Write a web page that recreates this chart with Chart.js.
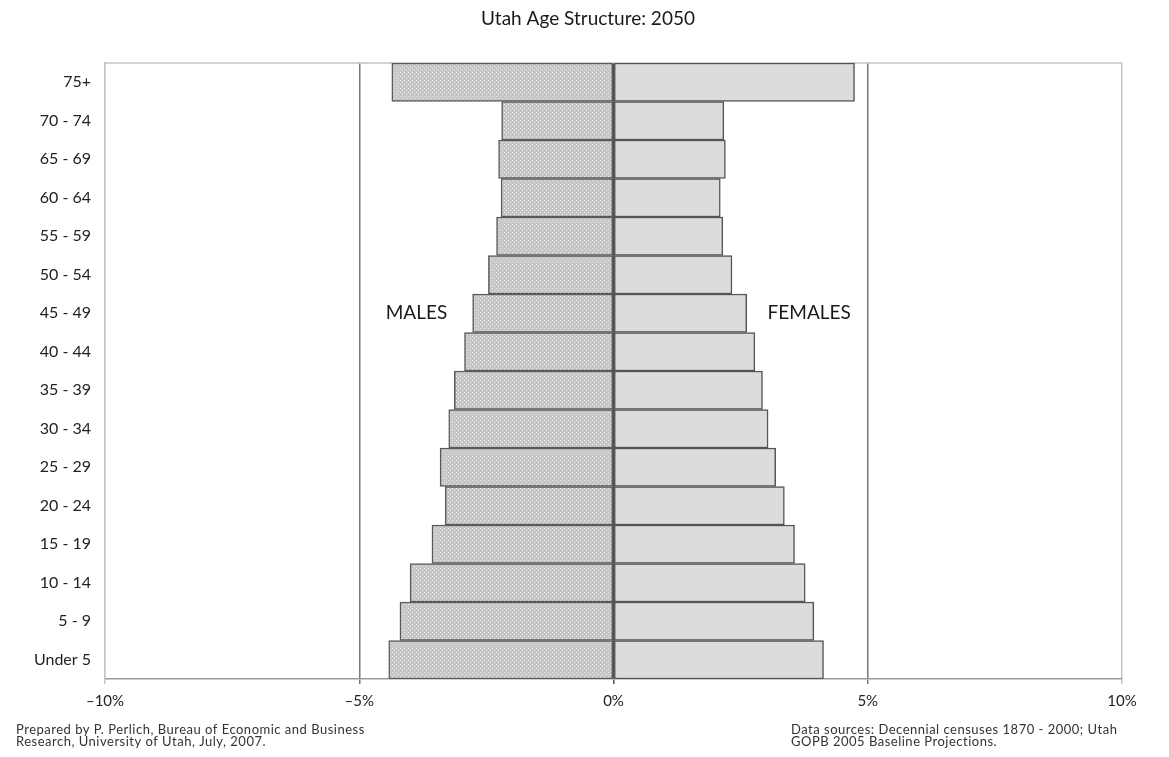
<!DOCTYPE html>
<html>
<head>
<meta charset="utf-8">
<script src="https://cdn.jsdelivr.net/npm/chart.js@4.4.1/dist/chart.umd.min.js"></script>
<style>
  html, body { margin: 0; padding: 0; background: #fff; }
  #wrap { width: 1169px; height: 757px; position: relative; }
</style>
</head>
<body>
<div id="wrap"><canvas id="c" width="1169" height="757"></canvas></div>
<script>
const chartTitle = 'Utah Age Structure: 2050';
const ageGroups = ['75+', '70 - 74', '65 - 69', '60 - 64', '55 - 59', '50 - 54', '45 - 49', '40 - 44',
  '35 - 39', '30 - 34', '25 - 29', '20 - 24', '15 - 19', '10 - 14', '5 - 9', 'Under 5'];
// percent of total population (males shown on the left as negative values)
const malesPct = [4.36, 2.20, 2.26, 2.21, 2.30, 2.46, 2.77, 2.93, 3.13, 3.24, 3.41, 3.31, 3.57, 4.00, 4.20, 4.42];
const femalesPct = [4.74, 2.17, 2.20, 2.10, 2.15, 2.33, 2.62, 2.78, 2.93, 3.04, 3.19, 3.36, 3.56, 3.77, 3.94, 4.13];
const xTicks = [-10, -5, 0, 5, 10];
const noteLeft = ['Prepared by P. Perlich, Bureau of Economic and Business', 'Research, University of Utah, July, 2007.'];
const noteRight = ['Data sources: Decennial censuses 1870 - 2000; Utah', 'GOPB 2005 Baseline Projections.'];

const FONT = 'Lato, "Open Sans", sans-serif';

function dotPattern(ctx) {
  const p = document.createElement('canvas');
  p.width = 4; p.height = 4;
  const g = p.getContext('2d');
  g.fillStyle = '#c6c6c6';
  g.fillRect(0, 0, 4, 4);
  g.fillStyle = '#ececec';
  g.fillRect(0, 0, 1, 1);
  g.fillRect(2, 2, 1, 1);
  return ctx.createPattern(p, 'repeat');
}
const ctx0 = document.getElementById('c').getContext('2d');
const malePattern = dotPattern(ctx0);

const decor = {
  id: 'decor',
  beforeDatasetsDraw(chart) {
    const { ctx, chartArea: a } = chart;
    ctx.save();
    ctx.strokeStyle = '#c4c4c4';
    ctx.lineWidth = 1.5;
    ctx.beginPath();
    ctx.moveTo(a.left, a.top); ctx.lineTo(a.right, a.top);
    ctx.stroke();
    ctx.restore();
  },
  afterDraw(chart) {
    const { ctx, scales } = chart;
    ctx.save();
    ctx.fillStyle = '#1a1a1a';
    ctx.textBaseline = 'middle';
    ctx.font = '19px ' + FONT;
    ctx.textAlign = 'center';
    ctx.fillText(chartTitle, 588, 19);
    const yRow = scales.y.getPixelForValue(ageGroups.indexOf('45 - 49'));
    ctx.font = '19px ' + FONT;
    ctx.textAlign = 'right';
    ctx.fillText('MALES', scales.x.getPixelForValue(-3.27), yRow);
    ctx.textAlign = 'left';
    ctx.fillText('FEMALES', scales.x.getPixelForValue(3.03), yRow);
    ctx.font = '13px ' + FONT;
    try { ctx.letterSpacing = '0.5px'; } catch (e) {}
    ctx.fillStyle = '#333';
    noteLeft.forEach((t, i) => ctx.fillText(t, 16, 730 + i * 11.5));
    noteRight.forEach((t, i) => ctx.fillText(t, 791, 730 + i * 11.5));
    ctx.restore();
  }
};

new Chart(ctx0, {
  type: 'bar',
  data: {
    labels: ageGroups,
    datasets: [
      {
        label: 'Males',
        data: malesPct.map(v => -v),
        backgroundColor: malePattern,
        borderColor: '#5a5a5a',
        borderWidth: 1.5,
        borderSkipped: false
      },
      {
        label: 'Females',
        data: femalesPct,
        backgroundColor: '#dcdcdc',
        borderColor: '#555',
        borderWidth: 1.5,
        borderSkipped: false
      }
    ]
  },
  options: {
    indexAxis: 'y',
    responsive: false,
    animation: false,
    devicePixelRatio: 1,
    layout: { padding: { left: 0, right: 47, top: 63, bottom: 0 } },
    datasets: { bar: { barPercentage: 1, categoryPercentage: 1 } },
    plugins: { legend: { display: false }, title: { display: false }, tooltip: { enabled: false } },
    scales: {
      x: {
        type: 'linear', min: -10, max: 10, stacked: true,
        afterBuildTicks: s => { s.ticks = xTicks.map(v => ({ value: v })); },
        afterFit: s => { s.height = 78; },
        ticks: {
          color: '#222', font: { family: FONT, size: 15 }, padding: 8,
          callback: v => (v < 0 ? '\u2013' + Math.abs(v) : v) + '%'
        },
        grid: {
          color: c => c.tick.value === 0 ? '#555' : (Math.abs(c.tick.value) === 5 ? '#777' : '#c4c4c4'),
          lineWidth: 1.5,
          tickLength: 5,
          drawTicks: true
        },
        border: { display: true, color: '#999', width: 1.5 }
      },
      y: {
        stacked: true,
        afterFit: s => { s.width = 105; },
        ticks: { color: '#222', font: { family: FONT, size: 16 }, padding: 6 },
        grid: { display: false },
        border: { display: true, color: '#c4c4c4', width: 1.5 }
      }
    }
  },
  plugins: [decor]
});
</script>
</body>
</html>
